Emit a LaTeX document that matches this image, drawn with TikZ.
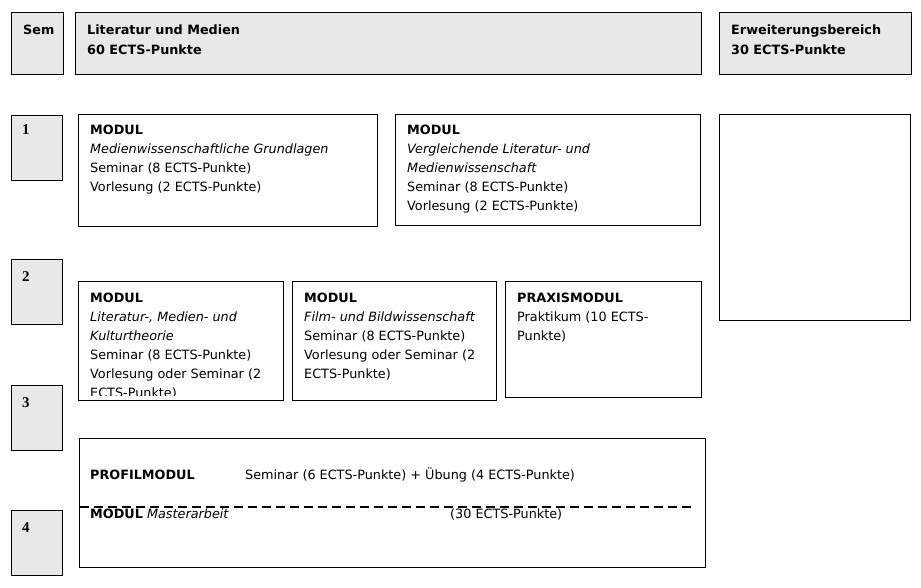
\documentclass[tikz,border=0pt]{standalone}
\usepackage{fontspec}
\setmainfont{DejaVu Sans}
\newfontfamily\numfont{Liberation Serif}
\definecolor{hdrgray}{HTML}{E8E8E8}
\begin{document}
\begin{tikzpicture}[x=1pt,y=-1pt,
  hdr/.style={draw=black, fill=hdrgray, line width=0.8pt, anchor=north west, inner sep=0pt},
  box/.style={draw=black, line width=0.8pt, anchor=north west, inner sep=0pt},
  txt/.style={anchor=north west, inner sep=0pt, align=left, font=\fontsize{12.8}{19}\selectfont},
  htxt/.style={anchor=north west, inner sep=0pt, align=left, font=\fontsize{12.8}{20.5}\selectfont\bfseries},
  line/.style={anchor=base west, inner sep=0pt, font=\fontsize{12.8}{19}\selectfont},
  num/.style={anchor=base west, inner sep=0pt, font=\fontsize{15}{17}\selectfont\numfont\bfseries},
  sep/.style={line width=1.8pt, dash pattern=on 9pt off 5pt}
]
\useasboundingbox (0,0) rectangle (921,588);
\newcommand{\st}{\rule{0pt}{10pt}}
% header row
\node[hdr, minimum width=52pt, minimum height=62pt] (sem) at (11,12) {};
\node[hdr, minimum width=626pt, minimum height=62pt] (lit) at (75,12) {};
\node[hdr, minimum width=192pt, minimum height=62pt] (erw) at (719,12) {};
\node[htxt] (semt) at (23,24) {\st Sem};
\node[htxt] (litt) at (87,24) {\st Literatur und Medien\\60 ECTS-Punkte};
\node[htxt] (erwt) at (731,24) {\st Erweiterungsbereich\\30 ECTS-Punkte};
% semester boxes
\node[hdr, minimum width=51pt, minimum height=65pt] (s1) at (11,115) {};
\node[hdr, minimum width=51pt, minimum height=65pt] (s2) at (11,259) {};
\node[hdr, minimum width=51pt, minimum height=65pt] (s3) at (11,385) {};
\node[hdr, minimum width=51pt, minimum height=65pt] (s4) at (11,510) {};
\node[num] (n1) at (22,135) {1};
\node[num] (n2) at (22,281) {2};
\node[num] (n3) at (22,407) {3};
\node[num] (n4) at (22,532) {4};
% semester 1 modules
\node[box, minimum width=299pt, minimum height=112pt] (m1) at (78,114) {};
\node[txt] (m1t) at (90,124) {\st\textbf{MODUL}\\\textit{Medienwissenschaftliche Grundlagen}\\Seminar (8 ECTS-Punkte)\\Vorlesung (2 ECTS-Punkte)};
\node[box, minimum width=305pt, minimum height=111pt] (m2) at (395,114) {};
\node[txt] (m2t) at (407,124) {\st\textbf{MODUL}\\\textit{Vergleichende Literatur- und}\\\textit{Medienwissenschaft}\\Seminar (8 ECTS-Punkte)\\Vorlesung (2 ECTS-Punkte)};
\node[box, minimum width=191pt, minimum height=206pt] (ext) at (719,114) {};
% semester 2 modules
\node[box, minimum width=205pt, minimum height=119pt] (m3) at (78,281) {};
\begin{scope}
\clip (78,281) rectangle (283,395);
\node[txt] (m3t) at (90,292) {\st\textbf{MODUL}\\\textit{Literatur-, Medien- und}\\\textit{Kulturtheorie}\\Seminar (8 ECTS-Punkte)\\Vorlesung oder Seminar (2\\ECTS-Punkte)};
\end{scope}
\node[box, minimum width=204pt, minimum height=119pt] (m4) at (292,281) {};
\node[txt] (m4t) at (304,292) {\st\textbf{MODUL}\\\textit{Film- und Bildwissenschaft}\\Seminar (8 ECTS-Punkte)\\Vorlesung oder Seminar (2\\ECTS-Punkte)};
\node[box, minimum width=196pt, minimum height=116pt] (m5) at (505,281) {};
\node[txt] (m5t) at (517,292) {\st\textbf{PRAXISMODUL}\\Praktikum (10 ECTS-\\Punkte)};
% profile / master
\node[box, minimum width=626pt, minimum height=129pt] (m6) at (79,438) {};
\node[line] (p1) at (90,479) {\textbf{PROFILMODUL}};
\node[line] (p2) at (245,479) {Seminar (6 ECTS-Punkte) + Übung (4 ECTS-Punkte)};
\node[line] (p3) at (90,518) {\textbf{MODUL} \textit{Masterarbeit}};
\node[line] (p4) at (450,518) {(30 ECTS-Punkte)};
\coordinate (d1) at (80,507);
\coordinate (d2) at (692,507);
\draw[sep] (d1) -- (d2);
\end{tikzpicture}
\end{document}
